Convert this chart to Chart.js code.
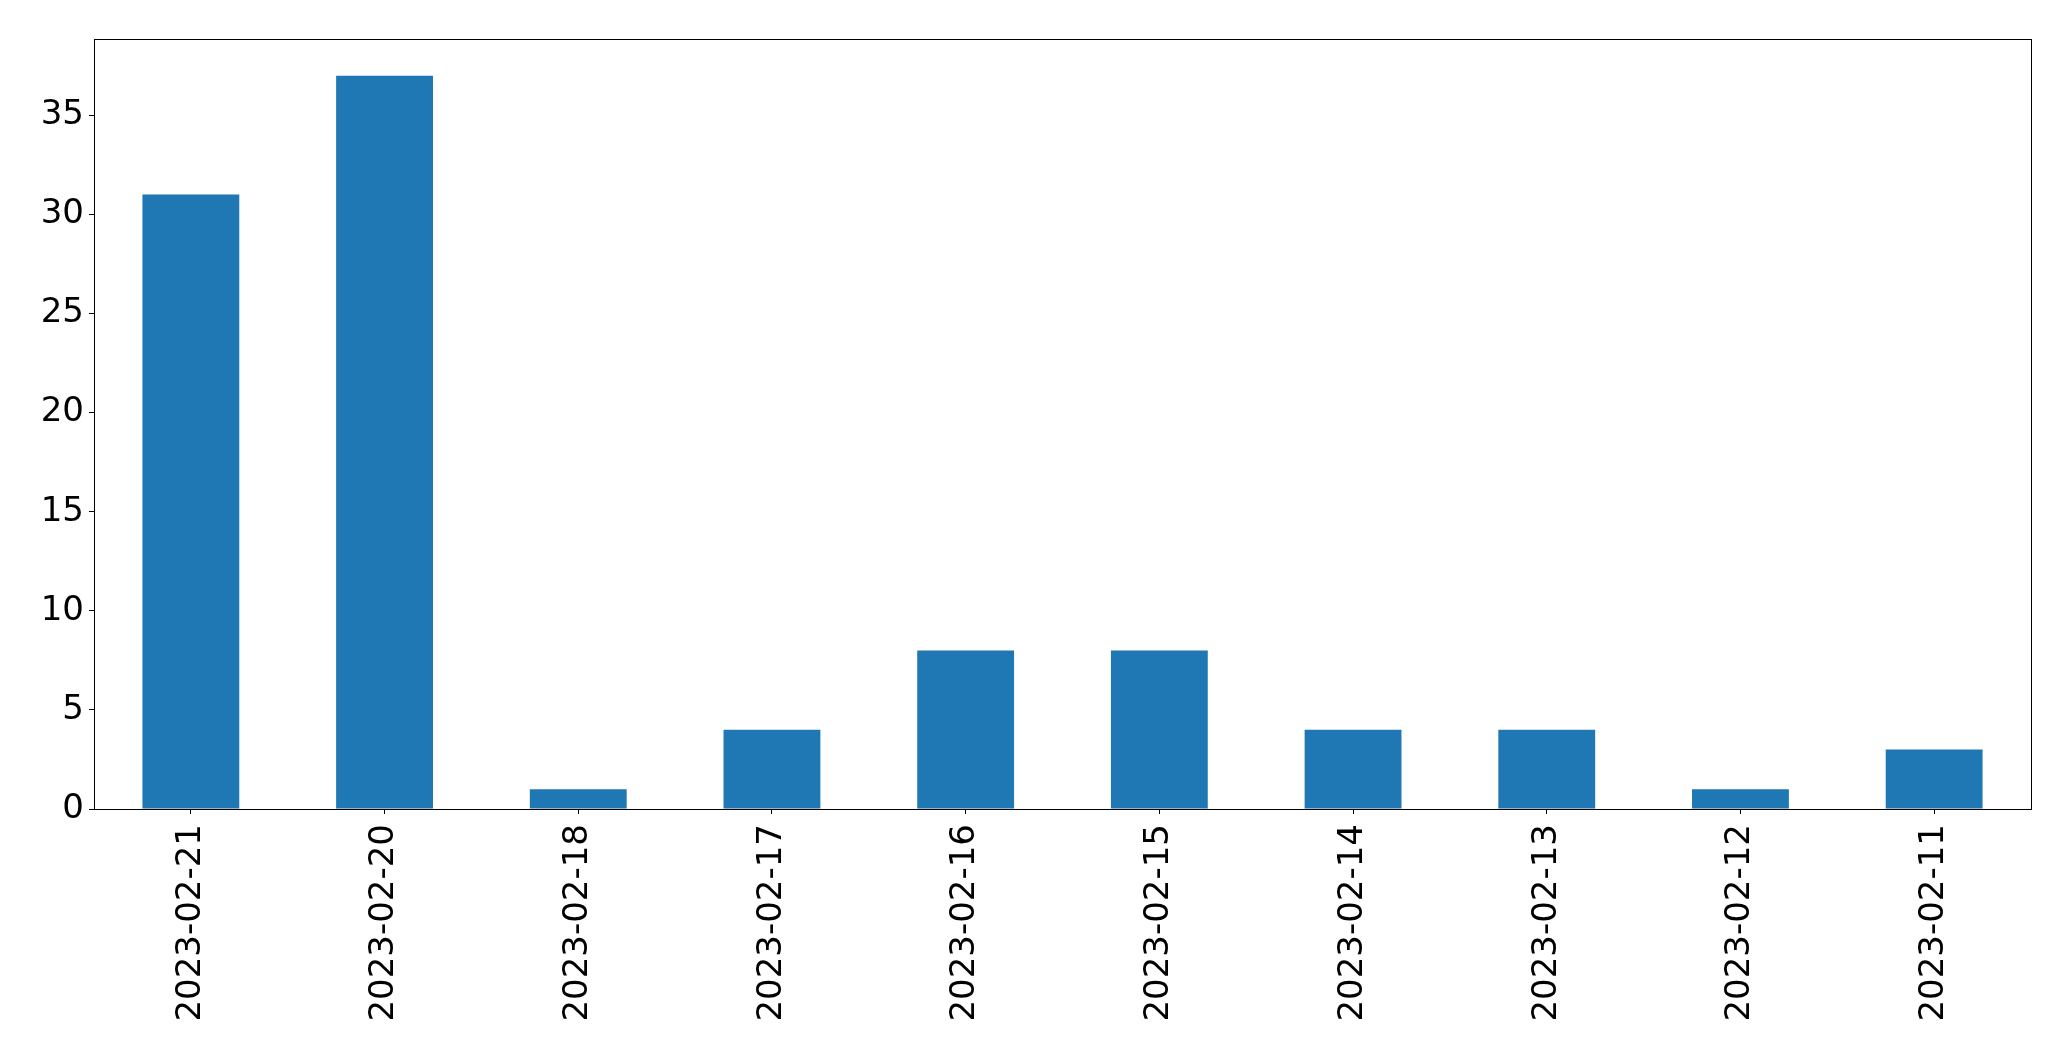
<!DOCTYPE html>
<html lang="en">
<head>
<meta charset="UTF-8">
<title>Counts per day</title>
<script src="https://cdn.jsdelivr.net/npm/chart.js@4/dist/chart.umd.min.js"></script>
<style>
*{margin:0;padding:0;box-sizing:border-box}
body{background:#fff;width:2071px;height:1061px;overflow:hidden}
</style>
</head>
<body>
<canvas id="c" width="2071" height="1061"></canvas>
<script>
// data
var days = ["2023-02-21","2023-02-20","2023-02-18","2023-02-17","2023-02-16","2023-02-15","2023-02-14","2023-02-13","2023-02-12","2023-02-11"];
var counts = [31, 37, 1, 4, 8, 8, 4, 4, 1, 3];
var yTicks = [0, 5, 10, 15, 20, 25, 30, 35];
var yMax = 38.85;

var font = {family: "'DejaVu Sans', sans-serif", size: 34};

// matplotlib draws a full box round the axes
var boxPlugin = {
  id: "box",
  afterDraw: function(chart) {
    var a = chart.chartArea, ctx = chart.ctx;
    ctx.save();
    ctx.strokeStyle = "#000";
    ctx.lineWidth = 1;
    ctx.strokeRect(Math.round(a.left) + 0.5, Math.round(a.top) + 0.5, Math.round(a.right - a.left), Math.round(a.bottom - a.top));
    ctx.restore();
  }
};

new Chart(document.getElementById("c"), {
  type: "bar",
  data: {
    labels: days,
    datasets: [{data: counts, backgroundColor: "#1f77b4", borderWidth: 0, categoryPercentage: 1, barPercentage: 0.5}]
  },
  options: {
    responsive: false,
    animation: false,
    devicePixelRatio: 1,
    layout: {padding: {left: 0, top: 39, right: 40, bottom: 0}},
    plugins: {legend: {display: false}, tooltip: {enabled: false}},
    scales: {
      x: {
        offset: true,
        grid: {display: true, drawOnChartArea: false, drawTicks: true, tickLength: 5, color: "#000", offset: false},
        border: {display: true, color: "#000", width: 1},
        ticks: {color: "#000", font: font, maxRotation: 90, minRotation: 90, autoSkip: false, padding: 10},
        afterFit: function(s) { s.height = 252; }
      },
      y: {
        min: 0,
        max: yMax,
        grid: {display: true, drawOnChartArea: false, drawTicks: true, tickLength: 5, color: "#000"},
        border: {display: true, color: "#000", width: 1},
        ticks: {color: "#000", font: font, padding: 5},
        afterBuildTicks: function(s) { s.ticks = yTicks.map(function(v){ return {value: v}; }); },
        afterFit: function(s) { s.width = 94; }
      }
    }
  },
  plugins: [boxPlugin]
});
</script>
</body>
</html>
